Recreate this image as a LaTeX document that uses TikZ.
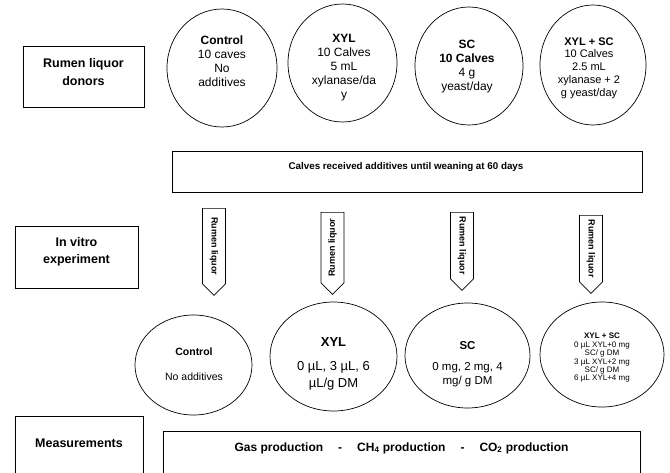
\documentclass[tikz,border=0pt]{standalone}
\usepackage{fontspec}
\setmainfont{Liberation Sans}
\usetikzlibrary{shapes.geometric,shapes.arrows}

\tikzset{
  oval/.style={draw, ellipse, inner sep=0pt},
  ovaltext/.style={align=center, inner sep=0pt, font=\fontsize{12}{14}\selectfont},
  sidebox/.style={draw, inner sep=0pt},
  sidetext/.style={align=center, inner sep=0pt, font=\bfseries\fontsize{12.5}{17.5}\selectfont},
  liquor/.style={draw, single arrow, single arrow head extend=0pt, single arrow tip angle=90,
    minimum width=23pt, inner sep=1pt, font=\bfseries\fontsize{9}{10}\selectfont},
}

\begin{document}
\begin{tikzpicture}[x=1pt, y=-1pt, line width=0.7pt]
\clip (0,0) rectangle (670,472);

% labels on the left
\node[sidebox, minimum width=121pt, minimum height=61pt] (donors) at (83.5,76.5) {};
\node[sidetext] (donorst) at (83.5,72) {Rumen liquor\\donors};
\node[sidebox, minimum width=123pt, minimum height=62pt] (invitro) at (76.5,257) {};
\node[sidetext] (invitrot) at (76.5,252) {In vitro\\experiment};
\node[sidebox, minimum width=128pt, minimum height=80pt] (meas) at (79,456) {};
\node[sidetext] (meast) at (79,443) {Measurements};

% donor groups
\node[oval, minimum width=110pt, minimum height=118pt] (d1) at (222,68) {};
\node[oval, minimum width=109pt, minimum height=118pt] (d2) at (342.5,63) {};
\node[oval, minimum width=108pt, minimum height=118pt] (d3) at (469,66) {};
\node[oval, minimum width=106pt, minimum height=120pt] (d4) at (593,65) {};
\node[ovaltext] (d1t) at (222,61) {\textbf{Control}\\10 caves\\No\\additives};
\node[ovaltext] (d2t) at (344,68) {\textbf{XYL}\\10 Calves\\5 mL\\xylanase/da\\y};
\node[ovaltext] (d3t) at (467,67) {\textbf{SC}\\\textbf{10 Calves}\\4 g\\yeast/day};
\node[ovaltext, font=\fontsize{11}{12.8}\selectfont] (d4t) at (589,68) {\textbf{XYL + SC}\\10 Calves\\2.5 mL\\xylanase + 2\\g yeast/day};

% feeding period
\node[draw, minimum width=470pt, minimum height=41pt] (calves) at (407,171.5) {};
\node[font=\bfseries\fontsize{9.8}{11}\selectfont] (calvest) at (406,167) {Calves received additives until weaning at 60 days};

% rumen liquor transfer
\node[liquor, rotate=-90, anchor=tail, minimum height=87pt] (r1) at (214,208) {Rumen liquor};
\node[liquor, rotate=90, shape border rotate=180, anchor=tail, minimum height=82pt] (r2) at (332.5,212) {Rumen liquor};
\node[liquor, rotate=-90, anchor=tail, minimum height=78pt] (r3) at (462,212) {Rumen liquor};
\node[liquor, rotate=-90, anchor=tail, minimum height=78pt] (r4) at (591,215) {Rumen liquor};

% in vitro treatments
\node[oval, minimum width=117pt, minimum height=100pt] (v1) at (193.5,365) {};
\node[oval, minimum width=127pt, minimum height=109pt] (v2) at (333.5,356.5) {};
\node[oval, minimum width=125pt, minimum height=105pt] (v3) at (467.5,355.5) {};
\node[oval, minimum width=124pt, minimum height=105pt] (v4) at (602,354.5) {};
\node[ovaltext, font=\fontsize{10.5}{25}\selectfont] (v1t) at (194,364) {\textbf{Control}\\No additives};
\node[ovaltext, font=\fontsize{13}{17}\selectfont] (v2t) at (333.5,364) {\textbf{XYL}\\[7pt]0 µL, 3 µL, 6\\µL/g DM};
\node[ovaltext, font=\fontsize{11.5}{14}\selectfont] (v3t) at (467.5,364) {\textbf{SC}\\[7pt]0 mg, 2 mg, 4\\mg/ g DM};
\node[ovaltext, font=\fontsize{8}{8.4}\selectfont] (v4t) at (602,358) {\textbf{XYL + SC}\\0 µL XYL+0 mg\\SC/ g DM\\3 µL XYL+2 mg\\SC/ g DM\\6 µL XYL+4 mg};

% measured variables
\node[draw, minimum width=477pt, minimum height=80pt] (prod) at (401.5,471) {};
\node[font=\bfseries\fontsize{12}{14}\selectfont] (prodt) at (401.5,448)
  {Gas production\hspace{15pt}-\hspace{15pt}CH\textsubscript{4} production\hspace{15pt}-\hspace{15pt}CO\textsubscript{2} production};
\end{tikzpicture}
\end{document}
